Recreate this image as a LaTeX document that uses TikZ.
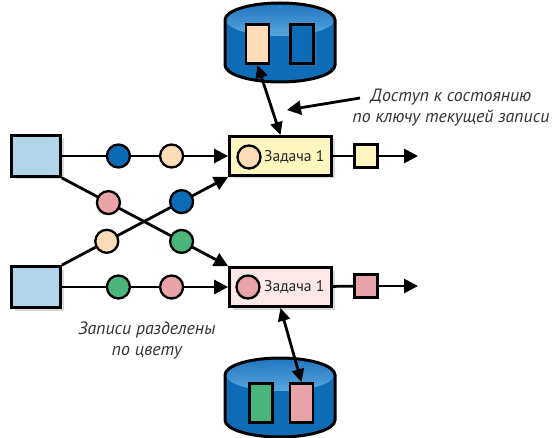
\documentclass[tikz,border=0pt]{standalone}
\usepackage{fontspec}
\setmainfont{PT Sans}
\usepackage{xcolor}
\usetikzlibrary{arrows.meta, positioning, shadows}
\definecolor{srcblue}{HTML}{B3D5EC}
\definecolor{recblue}{HTML}{0C6BB5}
\definecolor{recpeach}{HTML}{FDDCB8}
\definecolor{recpink}{HTML}{E8A4A8}
\definecolor{recgreen}{HTML}{4BB47A}
\definecolor{taskyellow}{HTML}{FEF6BF}
\definecolor{taskpink}{HTML}{FCE8E8}
\definecolor{dbblue}{HTML}{0E6DB6}
\definecolor{dbtop}{HTML}{2277C0}
\definecolor{dblight}{HTML}{5AA6DC}

\begin{document}
\begin{tikzpicture}[
    x=1pt, y=-1pt,
    src/.style={draw, line width=2.8pt, fill=srcblue, minimum width=49pt, minimum height=41pt,
        drop shadow={shadow xshift=3pt, shadow yshift=-3pt, opacity=.3}},
    rec/.style={draw, circle, line width=2.3pt, minimum size=23pt, inner sep=0pt},
    task/.style={draw, line width=2.8pt, minimum width=102pt, minimum height=39pt,
        drop shadow={shadow xshift=3pt, shadow yshift=-3pt, opacity=.3}},
    outbox/.style={draw, line width=2.5pt, minimum size=23pt, inner sep=0pt},
    slot/.style={draw, line width=2.8pt, minimum width=23pt, minimum height=39pt, inner sep=0pt},
    tasklabel/.style={anchor=west, inner sep=0pt, font=\fontsize{15.5}{18}\selectfont, text=black!85},
    flow/.style={draw, line width=2.8pt, -{Triangle[length=14pt, width=14pt]}},
    access/.style={draw, line width=2.8pt, {Triangle[length=13pt, width=12pt]}-{Triangle[length=13pt, width=12pt]}},
    note/.style={align=center, font=\itshape\fontsize{17.8}{21}\selectfont, text=black!80}
]
    \useasboundingbox (0,0) rectangle (553,438);

    \foreach \yy in {20,375} {
        \fill[dbblue] (225,\yy) -- ++(0,45) arc[start angle=180, end angle=360, x radius=55pt, y radius=17pt]
            -- ++(0,-45) arc[start angle=0, end angle=180, x radius=55pt, y radius=17pt] -- cycle;
        \shade[top color=dbtop, bottom color=dblight] (280,\yy) ellipse[x radius=54pt, y radius=16pt];
        \draw[line width=3pt] (225,\yy) -- ++(0,45) arc[start angle=180, end angle=360, x radius=55pt, y radius=17pt]
            -- ++(0,-45) arc[start angle=0, end angle=180, x radius=55pt, y radius=17pt] -- cycle;
    }

    \node[slot, fill=recpeach] (st11) at (257.5,44) {};
    \node[slot, fill=recblue, drop shadow={shadow xshift=3pt, shadow yshift=-3pt, opacity=.3}] (st12) at (302,44) {};
    \node[slot, fill=recgreen] (st21) at (261,403) {};
    \node[slot, fill=recpink] (st22) at (301.5,403) {};

    \node[src] (src1) at (36,156) {};
    \node[src] (src2) at (36,287) {};

    \node[task, fill=taskyellow] (task1) at (280.5,156) {};
    \node[rec, fill=recpeach] (t1rec) at (249,157) {};
    \node[tasklabel] (t1label) at (264,157) {Задача 1};

    \node[task, fill=taskpink] (task2) at (280.5,287) {};
    \node[rec, fill=recpink] (t2rec) at (248,287) {};
    \node[tasklabel] (t2label) at (264,287) {Задача 1};

    \node[outbox, fill=taskyellow] (out1) at (366,156) {};
    \node[outbox, fill=recpink] (out2) at (366,286) {};
    \coordinate (end1) at (418,156);
    \coordinate (end2) at (418,286);

    \draw[flow] (src1) -- node[rec, fill=recblue, pos=.34] (r11) {} node[rec, fill=recpeach, pos=.66] (r12) {} (task1);
    \draw[flow] (src2) -- node[rec, fill=recgreen, pos=.34] (r21) {} node[rec, fill=recpink, pos=.66] (r22) {} (task2);
    \draw[flow] (src1.south east) -- node[rec, fill=recpink, pos=.28] (x11) {} node[rec, fill=recgreen, pos=.72] (x12) {} (task2.north west);
    \draw[flow] (src2.north east) -- node[rec, fill=recpeach, pos=.27] (x21) {} node[rec, fill=recblue, pos=.72] (x22) {} (task1.south west);

    \draw[line width=2.8pt] (task1) -- (out1);
    \draw[flow] (out1) -- (end1);
    \draw[line width=2.8pt] (task2) -- (out2);
    \draw[flow] (out2) -- (end2);

    \draw[access] (st11.south) -- (task1.north);
    \draw[access] (task2.south) -- (st22.north);

    \node[note] (access note) at (451,108) {Доступ к состоянию\\по ключу текущей записи};
    \coordinate (notetail) at (360,98);
    \coordinate (notehead) at (287,110);
    \draw[flow] (notetail) -- (notehead);

    \node[note] (split note) at (147,340) {Записи разделены\\по цвету};
\end{tikzpicture}
\end{document}
